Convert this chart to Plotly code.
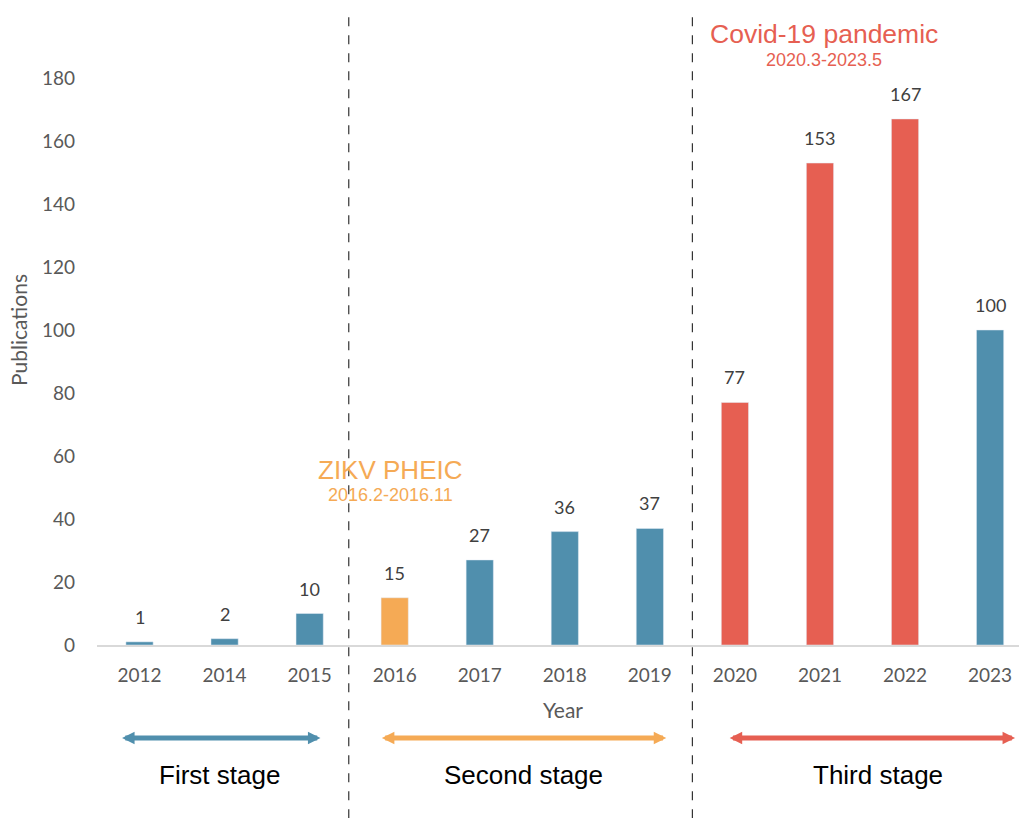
import plotly.graph_objects as go

years = ["2012", "2014", "2015", "2016", "2017", "2018", "2019", "2020", "2021", "2022", "2023"]
publications = [1, 2, 10, 15, 27, 36, 37, 77, 153, 167, 100]
bar_colors = ["#508FAD", "#508FAD", "#508FAD", "#F5AA55", "#508FAD", "#508FAD", "#508FAD",
              "#E65F52", "#E65F52", "#E65F52", "#508FAD"]
y_ticks = [0, 20, 40, 60, 80, 100, 120, 140, 160, 180]
stage_names = ["First stage", "Second stage", "Third stage"]
stage_colors = ["#508FAD", "#F5AA55", "#E65F52"]
stage_spans = [(-0.223, 2.127), (2.832, 6.193), (6.921, 10.294)]
stage_label_x = [0.94, 4.52, 8.68]
divider_x = [2.46, 6.5]

tick_font = dict(family="Lato, Carlito, Open Sans, sans-serif", size=19, color="#595959")
arial = "Liberation Sans, Arial, sans-serif"

fig = go.Figure()
fig.add_trace(go.Bar(
    x=list(range(len(years))), y=publications, marker_color=bar_colors, width=0.32,
    showlegend=False, hoverinfo="x+y",
))

shapes = []
for dx in divider_x:
    shapes.append(dict(type="line", xref="x", yref="paper", x0=dx, x1=dx, y0=-0.275, y1=1.008,
                       line=dict(color="#333333", width=1.2, dash="dash")))

annotations = []
for i, v in enumerate(publications):
    annotations.append(dict(x=i, y=v, xref="x", yref="y", text=str(v), showarrow=False,
                            yanchor="bottom", yshift=12,
                            font=dict(family="Lato, sans-serif", size=18, color="#404040")))

for (a, b), name, col, lx in zip(stage_spans, stage_names, stage_colors, stage_label_x):
    annotations.append(dict(x=b, y=-0.1476, xref="x", yref="paper", ax=a, ay=0, axref="x", ayref="pixel",
                            showarrow=True, arrowside="end+start", arrowhead=2, arrowsize=0.5,
                            arrowwidth=5, arrowcolor=col, text=""))
    annotations.append(dict(x=lx, y=-0.206, xref="x", yref="paper", text=name, showarrow=False,
                            yanchor="middle",
                            font=dict(family=arial, size=26, color="#000000")))

annotations += [
    dict(x=2.95, y=55.6, xref="x", yref="y", text="ZIKV PHEIC", showarrow=False, yanchor="middle",
         font=dict(family=arial, size=26, color="#F5AA55")),
    dict(x=2.95, y=47.6, xref="x", yref="y", text="2016.2-2016.11", showarrow=False, yanchor="middle",
         font=dict(family=arial, size=18, color="#F5AA55")),
    dict(x=8.05, y=194, xref="x", yref="y", text="Covid-19 pandemic", showarrow=False, yanchor="middle",
         font=dict(family=arial, size=26.5, color="#E65F52")),
    dict(x=8.05, y=185.7, xref="x", yref="y", text="2020.3-2023.5", showarrow=False, yanchor="middle",
         font=dict(family=arial, size=18, color="#E65F52")),
    dict(x=(563 - 139) / 85.1, y=-0.102, xref="x", yref="paper", text="Year", showarrow=False,
         yanchor="middle",
         font=dict(family="Lato, sans-serif", size=21, color="#595959")),
]

fig.update_layout(
    width=1019, height=818,
    margin=dict(l=97, r=0, t=15, b=173),
    plot_bgcolor="white", paper_bgcolor="white",
    shapes=shapes, annotations=annotations,
    xaxis=dict(tickmode="array", tickvals=list(range(len(years))), ticktext=years,
               range=[-0.5, 10.34], showgrid=False, zeroline=False,
               showline=True, linecolor="#D9D9D9", linewidth=1.5,
               ticks="", ticklabelstandoff=12, tickfont=tick_font),
    yaxis=dict(range=[0, 200], tickvals=y_ticks, showgrid=False, zeroline=False,
               showline=False, ticks="", ticklabelstandoff=21, tickfont=tick_font,
               title=dict(text="Publications", font=dict(family="Lato, sans-serif", size=21, color="#595959"),
                          standoff=8)),
)

fig.write_html("out.html", config={"displayModeBar": False},
               post_script="document.body.style.margin='0';document.body.style.overflow='hidden';")
